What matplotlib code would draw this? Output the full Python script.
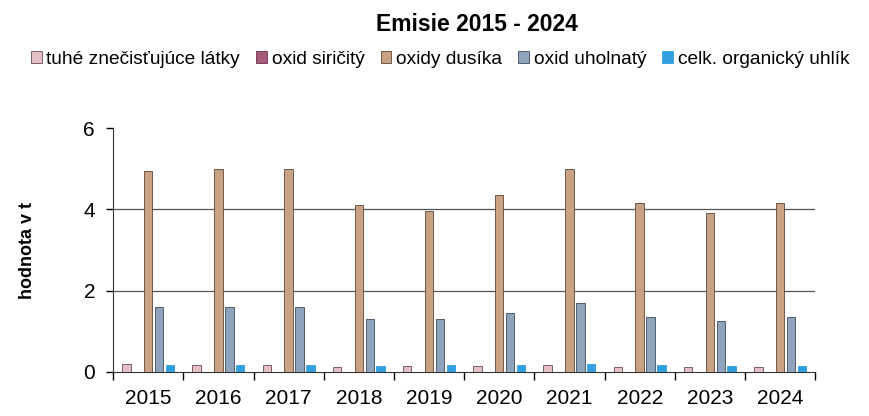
import numpy as np
import matplotlib.pyplot as plt

plt.rcParams['font.family'] = ['Liberation Sans', 'DejaVu Sans']

# hodnoty odčítané z grafu (t)
years = ['2015', '2016', '2017', '2018', '2019', '2020', '2021', '2022', '2023', '2024']
tzl = [0.2, 0.18, 0.18, 0.13, 0.15, 0.15, 0.17, 0.13, 0.12, 0.12]
so2 = [0, 0, 0, 0, 0, 0, 0, 0, 0, 0]
nox = [4.95, 5.0, 5.0, 4.1, 3.95, 4.35, 5.0, 4.15, 3.9, 4.15]
co = [1.6, 1.6, 1.6, 1.3, 1.3, 1.45, 1.7, 1.35, 1.25, 1.35]
toc = [0.16, 0.16, 0.16, 0.14, 0.18, 0.18, 0.2, 0.17, 0.15, 0.15]

labels = ['tuhé znečisťujúce látky', 'oxid siričitý', 'oxidy dusíka',
          'oxid uholnatý', 'celk. organický uhlík']
colors = ['#e3c0c6', '#a45a78', '#c9a283', '#8ea4bd', '#2f9fe0']
edges = ['#6a4a50', '#6a3048', '#5e4635', '#3c4a5a', '#2f9fe0']

fig = plt.figure(figsize=(8.7, 4.16), dpi=100)
ax = fig.add_axes([0.13, 0.106, 0.807, 0.586])

x = np.arange(len(years))
step = 0.155
w = 0.12
series = [tzl, so2, nox, co, toc]
handles = []
for i, s in enumerate(series):
    b = ax.bar(x + (i - 2) * step, s, w, color=colors[i], edgecolor=edges[i],
               linewidth=0.6, label=labels[i], zorder=3)
    handles.append(b)

ax.set_ylim(0, 6)
ax.set_xlim(-0.5, len(years) - 0.5)
ax.set_yticks([0, 2, 4, 6])
ax.tick_params(axis='y', labelsize=15, length=5, width=1, pad=8)
# mriežka len na 2 a 4
for g in [2, 4]:
    ax.axhline(g, color='#555555', linewidth=0.9, zorder=0)

ax.set_xticks(np.arange(len(years) + 1) - 0.5)
ax.set_xticklabels([])
ax.set_xticks(x, minor=True)
ax.set_xticklabels(years, minor=True)
ax.tick_params(axis='x', which='major', length=6, width=1)
ax.tick_params(axis='x', which='minor', length=0, labelsize=15, pad=12)

for sp in ['top', 'right']:
    ax.spines[sp].set_visible(False)
ax.spines['left'].set_color('#333333')
ax.spines['bottom'].set_color('#333333')

ax.set_ylabel('hodnota v t', fontsize=13, fontweight='bold', labelpad=34)

fig.text(0.548, 0.94, 'Emisie 2015 - 2024', ha='center', va='center',
         fontsize=16.5, fontweight='bold')
fig.legend(handles=handles, loc='center', bbox_to_anchor=(0.506, 0.858), ncol=5,
           frameon=False, fontsize=13.8, handlelength=0.55, handleheight=0.55,
           handletextpad=0.25, columnspacing=0.85)

fig.savefig('out.png', dpi=100)
